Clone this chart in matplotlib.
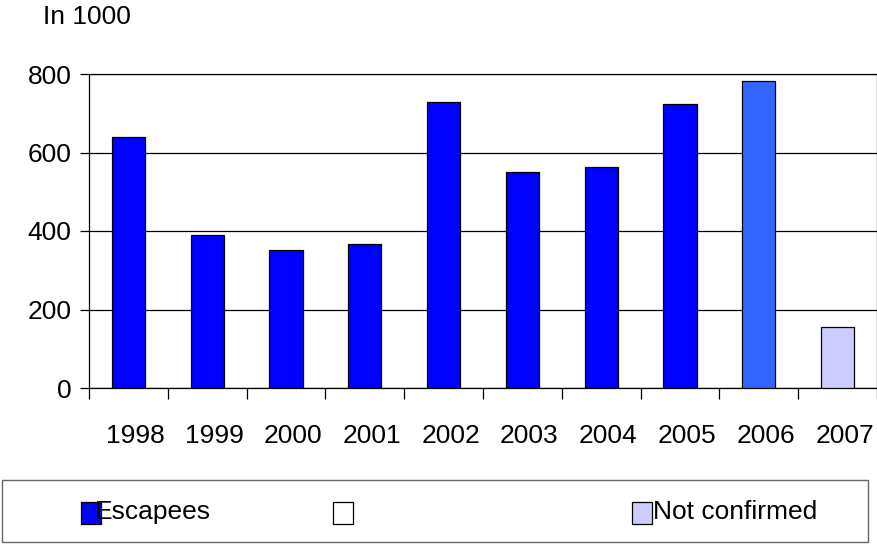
import numpy as np
import matplotlib
matplotlib.use('Agg')
import matplotlib.pyplot as plt
from matplotlib.patches import Rectangle
from matplotlib.transforms import ScaledTranslation

years = ['1998', '1999', '2000', '2001', '2002', '2003', '2004', '2005', '2006', '2007']
escapees = [639, 390, 352, 368, 729, 551, 563, 723, 781, 155]
bar_colors = ['#0000FF'] * 8 + ['#3366FF', '#CCCCFF']
legend_labels = ['Escapees', '', 'Not confirmed']
legend_colors = ['#0000FF', '#FFFFFF', '#CCCCFF']

plt.rcParams['font.family'] = ['Liberation Sans', 'DejaVu Sans']
FS = 19

fig = plt.figure(figsize=(8.78, 5.44), dpi=100)
ax = fig.add_axes([89 / 878, 1 - 388 / 544, 788 / 878, 314 / 544])

x = np.arange(len(years))
ax.bar(x, escapees, width=0.42, color=bar_colors, edgecolor='black', linewidth=0.9, zorder=3)

ax.set_xlim(-0.5, len(years) - 0.5)
ax.set_ylim(0, 800)
ax.set_yticks([0, 200, 400, 600, 800])
ax.yaxis.grid(True, color='black', linewidth=0.9, zorder=0)
# ticks sit between categories, labels centred under bars
ax.set_xticks(np.arange(len(years) + 1) - 0.5)
ax.set_xticklabels([])
ax.set_xticks(x, minor=True)
ax.set_xticklabels(years, minor=True)
ax.tick_params(axis='x', which='major', direction='out', length=8, width=0.9)
ax.tick_params(axis='x', which='minor', length=0, pad=26, labelsize=FS)
ax.tick_params(axis='y', direction='out', length=6.5, width=0.9, pad=6, labelsize=FS)
# year labels in the original sit a little right of the bars
shift = ScaledTranslation(7 / 100, 0, fig.dpi_scale_trans)
for lbl in ax.get_xticklabels(minor=True):
    lbl.set_transform(lbl.get_transform() + shift)
for s in ax.spines.values():
    s.set_linewidth(0.9)

fig.text(43 / 878, 1 - 17 / 544, 'In 1000', fontsize=FS, va='center', ha='left')

# legend box, drawn by hand to match the original layout
fig.patches.append(Rectangle((2 / 878, 1 - 542 / 544), 866 / 878, 62 / 544,
                             transform=fig.transFigure, facecolor='white',
                             edgecolor='#666666', linewidth=1))
mx = [81, 333, 632]
tx = [95, None, 653]
for m, t, lab, col in zip(mx, tx, legend_labels, legend_colors):
    fig.patches.append(Rectangle((m / 878, 1 - 524 / 544), 20 / 878, 22 / 544,
                                 transform=fig.transFigure, facecolor=col,
                                 edgecolor='black', linewidth=0.9))
    if lab:
        fig.text(t / 878, 1 - 519 / 544, lab, fontsize=FS, va='baseline', ha='left')

fig.savefig('out.png', dpi=100)
